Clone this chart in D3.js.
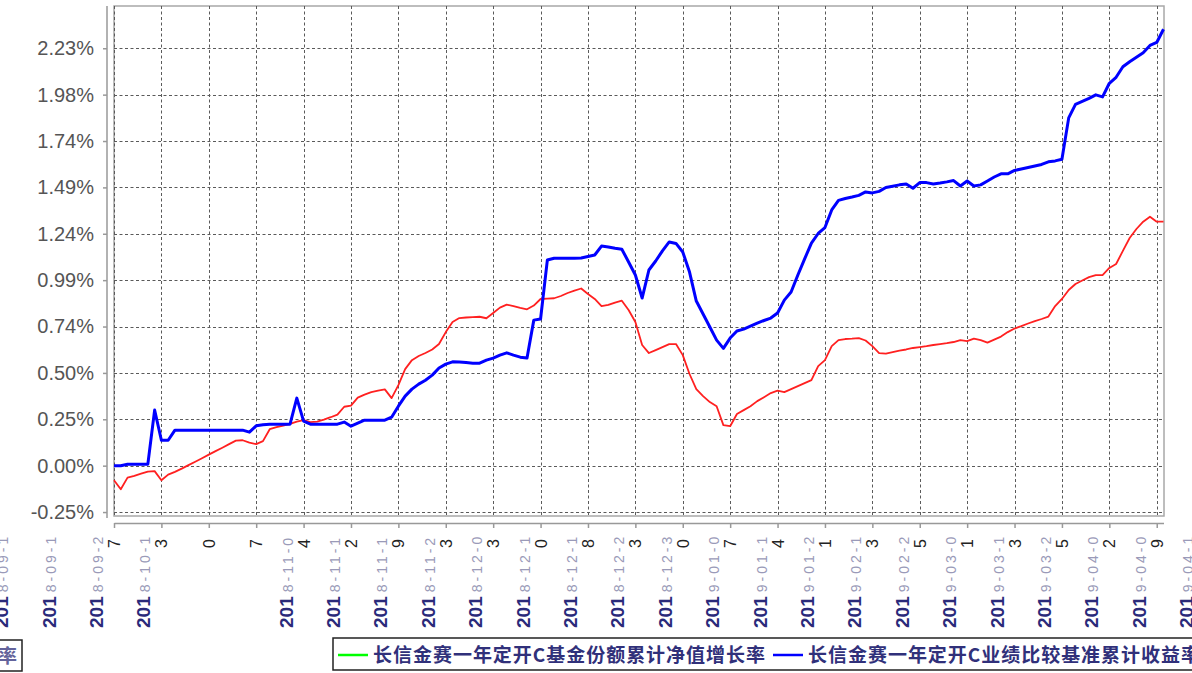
<!DOCTYPE html>
<html>
<head>
<meta charset="utf-8">
<script src="https://cdn.jsdelivr.net/npm/d3@7"></script>
<style>
  html, body { margin: 0; padding: 0; background: #fff; overflow: hidden; }
  svg { display: block; }
</style>
</head>
<body>
<svg id="chart" width="1192" height="673"></svg>
<script>
// ---- data ----
const seriesNames = ["长信金赛一年定开C基金份额累计净值增长率", "长信金赛一年定开C业绩比较基准累计收益率"];
const legendColors = ["#00ff00", "#0000ff"];

// fund cumulative NAV growth (%), one value per trading day
const fundValues = [
  -0.078,-0.126,-0.064,-0.054,-0.043,-0.032,-0.029,-0.078,-0.048,-0.033,
  -0.016,0.003,0.021,0.040,0.059,0.078,0.096,0.115,0.134,0.136,
  0.123,0.115,0.131,0.195,0.206,0.214,0.223,0.235,0.243,0.233,
  0.235,0.246,0.259,0.273,0.315,0.321,0.364,0.380,0.393,0.401,
  0.408,0.361,0.431,0.516,0.564,0.586,0.602,0.621,0.650,0.714,
  0.768,0.789,0.792,0.794,0.796,0.788,0.816,0.845,0.861,0.853,
  0.843,0.836,0.856,0.891,0.893,0.895,0.907,0.923,0.936,0.947,
  0.918,0.891,0.853,0.859,0.872,0.882,0.832,0.768,0.645,0.602,
  0.618,0.634,0.650,0.650,0.591,0.490,0.409,0.372,0.340,0.318,
  0.217,0.211,0.276,0.297,0.318,0.345,0.366,0.388,0.401,0.393,
  0.409,0.425,0.441,0.457,0.532,0.564,0.639,0.671,0.677,0.679,
  0.682,0.669,0.639,0.602,0.599,0.607,0.615,0.621,0.629,0.634,
  0.639,0.645,0.650,0.655,0.661,0.671,0.666,0.679,0.671,0.658,
  0.674,0.690,0.714,0.733,0.746,0.760,0.773,0.784,0.797,0.853,
  0.891,0.939,0.971,0.990,1.008,1.019,1.019,1.057,1.078,1.148,
  1.217,1.265,1.304,1.331,1.304,1.304
];

// benchmark cumulative return (%)
const benchValues = [
  0.000,0.000,0.008,0.008,0.008,0.008,0.297,0.136,0.136,0.190,
  0.190,0.190,0.190,0.190,0.190,0.190,0.190,0.190,0.190,0.190,
  0.179,0.213,0.219,0.222,0.222,0.222,0.222,0.361,0.238,0.222,
  0.222,0.222,0.222,0.222,0.233,0.211,0.227,0.243,0.243,0.243,
  0.243,0.259,0.318,0.372,0.409,0.436,0.457,0.484,0.522,0.543,
  0.555,0.554,0.551,0.548,0.548,0.564,0.575,0.591,0.603,0.591,
  0.580,0.575,0.778,0.784,1.099,1.109,1.109,1.109,1.109,1.110,
  1.118,1.126,1.174,1.169,1.162,1.157,1.089,1.019,0.896,1.046,
  1.094,1.148,1.196,1.188,1.142,1.035,0.880,0.811,0.741,0.671,
  0.627,0.682,0.720,0.730,0.746,0.762,0.776,0.789,0.816,0.885,
  0.928,1.019,1.105,1.190,1.241,1.273,1.367,1.418,1.428,1.436,
  1.445,1.463,1.458,1.466,1.487,1.494,1.501,1.506,1.483,1.513,
  1.513,1.506,1.511,1.517,1.524,1.495,1.522,1.495,1.501,1.522,
  1.543,1.560,1.560,1.578,1.586,1.594,1.602,1.610,1.624,1.629,
  1.638,1.859,1.931,1.947,1.963,1.982,1.971,2.044,2.076,2.132,
  2.159,2.183,2.207,2.246,2.262,2.333
];

// y axis ticks (value in %, label)
const yTickValues = [-0.2479, 0, 0.2479, 0.4958, 0.7437, 0.9916, 1.2395, 1.4874, 1.7353, 1.9832, 2.2311];
const yTickLabels = ["-0.25%", "0.00%", "0.25%", "0.50%", "0.74%", "0.99%", "1.24%", "1.49%", "1.74%", "1.98%", "2.23%"];

// x axis: a tick every 7 trading days
const xTickStep = 7;
const xTickLabels = [
  "2018-09-27","2018-10-13","2018-10-20","2018-10-27","2018-11-04","2018-11-12",
  "2018-11-19","2018-11-23","2018-12-03","2018-12-10","2018-12-18","2018-12-23",
  "2018-12-30","2019-01-07","2019-01-14","2019-01-21","2019-02-13","2019-02-25",
  "2019-03-01","2019-03-13","2019-03-25","2019-04-02","2019-04-09"
];
// overflowing (garbled) label columns drawn outside the tick range
const xOverflowLabels = [
  { slot: -2, text: "2018-09-18" },
  { slot: -1, text: "2018-09-18" },
  { slot: 23, text: "2019-04-19" }
];
const hiddenLabelSlots = [2, 3];

// ---- layout ----
const svg = d3.select("#chart");
const plot = { left: 114, right: 1164, top: 6, bottom: 516 };
const n = fundValues.length;

const x = d3.scaleLinear().domain([0, n - 1]).range([plot.left, plot.right - 0.5]);
const y = d3.scaleLinear().domain([-0.269, 2.457]).range([plot.bottom, plot.top]);

const xTickIdx = xTickLabels.map((d, i) => i * xTickStep);

// plot background + frame
svg.append("rect")
  .attr("x", plot.left).attr("y", plot.top)
  .attr("width", plot.right - plot.left).attr("height", plot.bottom - plot.top)
  .attr("fill", "#fff").attr("stroke", "#a8a8a8").attr("stroke-width", 1.5);

// grid
const grid = svg.append("g").attr("stroke", "#5a5a5a").attr("stroke-width", 1).attr("stroke-dasharray", "3,2.5");
grid.selectAll("line.h").data(yTickValues).join("line")
  .attr("x1", plot.left).attr("x2", plot.right)
  .attr("y1", d => Math.round(y(d)) + 0.5).attr("y2", d => Math.round(y(d)) + 0.5);
grid.selectAll("line.v").data(xTickIdx).join("line")
  .attr("y1", plot.top).attr("y2", plot.bottom)
  .attr("x1", d => Math.round(x(d)) + 0.5).attr("x2", d => Math.round(x(d)) + 0.5);

// y axis
const yAxis = d3.axisLeft(y)
  .tickValues(yTickValues)
  .tickFormat((d, i) => yTickLabels[i])
  .tickSizeInner(4).tickSizeOuter(0).tickPadding(9);
const gy = svg.append("g").attr("transform", "translate(107,0)").call(yAxis);
gy.select(".domain").attr("stroke", "#999").attr("stroke-width", 1.5)
  .attr("d", `M0,${plot.top}V${plot.bottom + 2}`);
gy.selectAll(".tick line").attr("stroke", "#999").attr("stroke-width", 1.5);
gy.selectAll(".tick text")
  .attr("font-family", "'Liberation Sans', Arial, sans-serif")
  .attr("font-size", 20).attr("fill", "#555");

// x axis
const xAxis = d3.axisBottom(x)
  .tickValues(xTickIdx)
  .tickFormat("")
  .tickSizeInner(5).tickSizeOuter(0);
const gx = svg.append("g").attr("transform", "translate(0,523)").call(xAxis);
gx.select(".domain").attr("stroke", "#999").attr("stroke-width", 1.5);
gx.selectAll(".tick line").attr("stroke", "#999").attr("stroke-width", 1.5);

// x tick labels (rotated, overlapping as in the original rendering)
const labelFont = "'Liberation Sans', Arial, sans-serif";
const lab = svg.append("g");
function labelBody(slot, d) {
  const tx = x(slot * xTickStep);
  const g = lab.append("g").attr("transform", `translate(${tx - 11},628) rotate(-90)`);
  const t = g.append("text").attr("font-family", labelFont).attr("font-size", 19);
  t.append("tspan").attr("font-weight", "bold").attr("fill", "#2a2a7a").text(d.slice(0, 3));
  t.append("tspan").attr("font-size", 14).attr("fill", "#9a9ab8").attr("letter-spacing", 3)
    .attr("dx", 4).text(d.slice(3, -1));
}
xTickLabels.forEach((d, i) => {
  const tx = x(xTickIdx[i]);
  lab.append("text")
    .attr("transform", `translate(${tx + 6},548) rotate(-90)`)
    .attr("font-family", labelFont).attr("font-size", 16)
    .attr("fill", "#222").text(d.slice(-1));
  if (hiddenLabelSlots.includes(i)) return;
  labelBody(i, d);
});
xOverflowLabels.forEach(o => labelBody(o.slot, o.text));

// lines
const line = d3.line().x((d, i) => x(i)).y(d => y(d));
svg.append("path").datum(fundValues)
  .attr("d", line).attr("fill", "none")
  .attr("stroke", "#ff2020").attr("stroke-width", 1.8).attr("stroke-linejoin", "round");
svg.append("path").datum(benchValues)
  .attr("d", line).attr("fill", "none")
  .attr("stroke", "#0000ff").attr("stroke-width", 3).attr("stroke-linejoin", "round");

// legend
const legFont = "'Noto Sans CJK SC', sans-serif";
const legColor = "#30307a";

// cut-off left legend box
svg.append("rect").attr("x", -20).attr("y", 640).attr("width", 42).attr("height", 31)
  .attr("fill", "#fff").attr("stroke", "#222").attr("stroke-width", 1.5);
svg.append("text").attr("x", 17).attr("y", 663).attr("text-anchor", "end")
  .attr("font-family", legFont).attr("font-size", 19).attr("font-weight", "bold")
  .attr("fill", legColor).attr("opacity", 0.75).text(seriesNames[0]);

const leg = svg.append("g");
leg.append("rect").attr("x", 333).attr("y", 638).attr("width", 900).attr("height", 32)
  .attr("fill", "#fff").attr("stroke", "#222").attr("stroke-width", 1.5);
const legItems = [
  { x: 338, tx: 373, w: 392 },
  { x: 773, tx: 808, w: 392 }
];
legItems.forEach((it, i) => {
  leg.append("line").attr("x1", it.x).attr("x2", it.x + 30).attr("y1", 655).attr("y2", 655)
    .attr("stroke", legendColors[i]).attr("stroke-width", 2.5);
  leg.append("text").attr("x", it.tx).attr("y", 662)
    .attr("font-family", legFont).attr("font-size", 19).attr("font-weight", "bold")
    .attr("fill", legColor)
    .attr("textLength", it.w).attr("lengthAdjust", "spacing")
    .text(seriesNames[i]);
});
</script>
</body>
</html>
